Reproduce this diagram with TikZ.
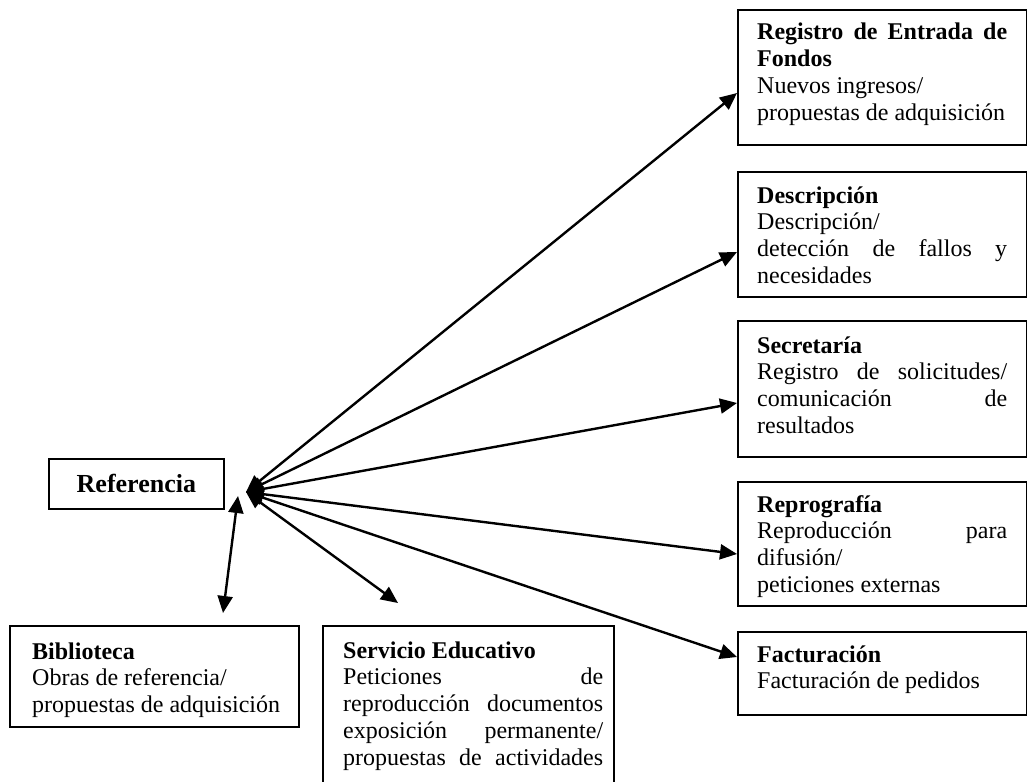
\documentclass[tikz,border=0pt]{standalone}
\usepackage{fontspec}
\setmainfont{Liberation Serif}
\usetikzlibrary{arrows.meta,calc}
\newcommand{\bodyfont}{\fontsize{24pt}{26.8pt}\selectfont}
\newcommand{\txt}[2]{\vtop{\hsize=#1\parindent=0pt\bodyfont #2}}
\newcommand{\jl}[1]{\makebox[\hsize][s]{#1}}
\tikzset{
  box/.style={draw, line width=1.8pt, inner sep=0pt, anchor=north west},
  tx/.style={anchor=base west, inner sep=0pt},
  arr/.style={line width=2.4pt, {Triangle[length=17pt,width=15pt]}-{Triangle[length=17pt,width=15pt]}}
}
\begin{document}
\begin{tikzpicture}[x=1pt,y=-1pt]
\useasboundingbox (0,0) rectangle (1027,781);
% boxes
\node[box, minimum width=289pt, minimum height=135pt] (reg) at (737,9) {};
\node[box, minimum width=289pt, minimum height=125pt] (desc) at (737,171) {};
\node[box, minimum width=289pt, minimum height=136pt] (sec) at (737,320) {};
\node[box, minimum width=289pt, minimum height=124pt] (rep) at (737,481) {};
\node[box, minimum width=289pt, minimum height=83pt] (fac) at (737,631) {};
\node[box, minimum width=175pt, minimum height=50pt, font=\fontsize{26pt}{30pt}\selectfont\bfseries] (ref) at (48,458) {Referencia};
\node[box, minimum width=289pt, minimum height=101pt] (bib) at (9,625) {};
\node[box, minimum width=291pt, minimum height=170pt] (serv) at (322,625) {};
% texts
\node[tx] (regT) at (757,40) {\txt{250pt}{\textbf{\jl{Registro de Entrada de}}\par\textbf{Fondos}\par Nuevos ingresos/\par propuestas de adquisición}};
\node[tx] (descT) at (757,203) {\txt{250pt}{\textbf{Descripción}\par Descripción/\par\jl{detección de fallos y}\par necesidades}};
\node[tx] (secT) at (757,353) {\txt{250pt}{\textbf{Secretaría}\par\jl{Registro de solicitudes/}\par\jl{comunicación de}\par resultados}};
\node[tx] (repT) at (757,512) {\txt{250pt}{\textbf{Reprografía}\par\jl{Reproducción para}\par difusión/\par peticiones externas}};
\node[tx] (facT) at (757,662) {\txt{250pt}{\textbf{Facturación}\par Facturación de pedidos}};
\node[tx] (bibT) at (32,659) {\txt{260pt}{\textbf{Biblioteca}\par Obras de referencia/\par propuestas de adquisición}};
\node[tx] (servT) at (343,658) {\txt{260pt}{\textbf{Servicio Educativo}\par\jl{Peticiones de}\par\jl{reproducción documentos}\par\jl{exposición permanente/}\par\jl{propuestas de actividades}}};
% connector ends
\coordinate (hub) at (246,492);
\coordinate (hubB) at (238,496);
\coordinate (regIn) at ($(reg.north west)+(0,84)$);
\coordinate (descIn) at ($(desc.north west)+(0,81)$);
\coordinate (secIn) at ($(sec.north west)+(0,83)$);
\coordinate (repIn) at ($(rep.north west)+(0,73)$);
\coordinate (facIn) at ($(fac.north west)+(0,26)$);
\coordinate (bibIn) at ($(bib.north west)+(214,-12)$);
\coordinate (servIn) at ($(serv.north west)+(76,-22)$);
% arrows
\draw[arr] (hub) -- (regIn);
\draw[arr] (hub) -- (descIn);
\draw[arr] (hub) -- (secIn);
\draw[arr] (hub) -- (repIn);
\draw[arr] (hub) -- (facIn);
\draw[arr] (hub) -- (servIn);
\draw[arr] (hubB) -- (bibIn);
\end{tikzpicture}
\end{document}
